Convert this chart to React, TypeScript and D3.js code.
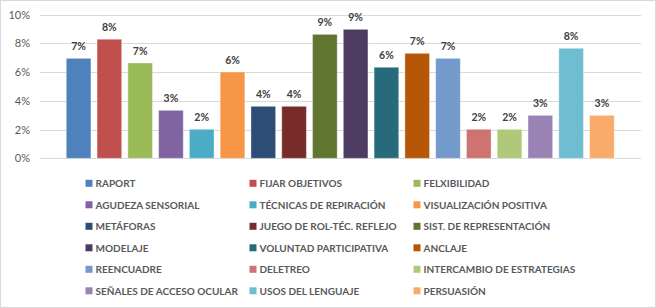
import React from "react";
import * as d3 from "d3";

const categories = [
  "RAPORT", "FIJAR OBJETIVOS", "FELXIBILIDAD",
  "AGUDEZA SENSORIAL", "TÉCNICAS DE REPIRACIÓN", "VISUALIZACIÓN POSITIVA",
  "METÁFORAS", "JUEGO DE ROL-TÉC. REFLEJO", "SIST. DE REPRESENTACIÓN",
  "MODELAJE", "VOLUNTAD PARTICIPATIVA", "ANCLAJE",
  "REENCUADRE", "DELETREO", "INTERCAMBIO DE ESTRATEGIAS",
  "SEÑALES DE ACCESO OCULAR", "USOS DEL LENGUAJE", "PERSUASIÓN",
];
const values = [
  0.0696, 0.0829, 0.0664, 0.0334, 0.0202, 0.0601,
  0.0362, 0.0362, 0.0863, 0.0898, 0.0634, 0.0731,
  0.0696, 0.0202, 0.0202, 0.0299, 0.0766, 0.0299,
];
const colors = [
  "#4F81BD", "#C0504D", "#9BBB59", "#8064A2", "#4BACC6", "#F79646",
  "#2C4D75", "#772C2A", "#5F7530", "#4D3B62", "#276A7C", "#B65708",
  "#729ACA", "#CD7371", "#AFC97A", "#9983B5", "#6FBDD1", "#F9AB6B",
];
const yTicks = [0, 0.02, 0.04, 0.06, 0.08, 0.1];

const W = 656, H = 308;
const plotLeft = 39.5, plotRight = 641, plotTop = 14.7, plotBottom = 158.3;
const FONT = "Lato, 'Open Sans', sans-serif";

export default function App() {
  const x = d3.scaleBand<string>().domain(categories).range([plotLeft, plotRight]).paddingInner(0.2).paddingOuter(0.87);
  const y = d3.scaleLinear().domain([0, 0.1]).range([plotBottom, plotTop]);
  const fmt = d3.format(".0%");
  const legendCols = [86, 250, 414];
  const legendRow0 = 183.3, legendStep = 21.5;

  return (
    <div style={{ position: "absolute", left: 0, top: 0 }}>
      <svg width={W} height={H} style={{ display: "block", background: "#fff" }}>
        <rect x={0.5} y={0.5} width={W - 1} height={H - 1} fill="#fff" stroke="#D9D9D9" />
        {yTicks.map((t) => (
          <g key={t}>
            <line x1={plotLeft} x2={plotRight} y1={Math.round(y(t)) + 0.5} y2={Math.round(y(t)) + 0.5} stroke="#D9D9D9" />
            <text x={30} y={y(t) + 4} textAnchor="end" fontFamily={FONT} fontSize={11} fill="#595959">{fmt(t)}</text>
          </g>
        ))}
        {categories.map((c, i) => (
          <g key={c}>
            <rect x={x(c)} y={y(values[i])} width={x.bandwidth()} height={plotBottom - y(values[i])} fill={colors[i]} stroke="rgba(255,255,255,0.35)" strokeWidth={1} />
            <text x={(x(c) as number) + x.bandwidth() / 2} y={y(values[i]) - 8} textAnchor="middle" fontFamily={FONT} fontWeight="bold" fontSize={10.5} fill="#404040">{fmt(values[i])}</text>
          </g>
        ))}
        {categories.map((c, i) => {
          const col = i % 3, row = Math.floor(i / 3);
          const cx = legendCols[col], cy = legendRow0 + row * legendStep;
          return (
            <g key={"l" + c}>
              <rect x={cx - 0.5} y={cy - 3.5} width={7} height={7} fill={colors[i]} />
              <text x={cx + 9.5} y={cy + 3.8} fontFamily={FONT} fontWeight="bold" fontSize={10} fill="#595959">{c}</text>
            </g>
          );
        })}
      </svg>
    </div>
  );
}
